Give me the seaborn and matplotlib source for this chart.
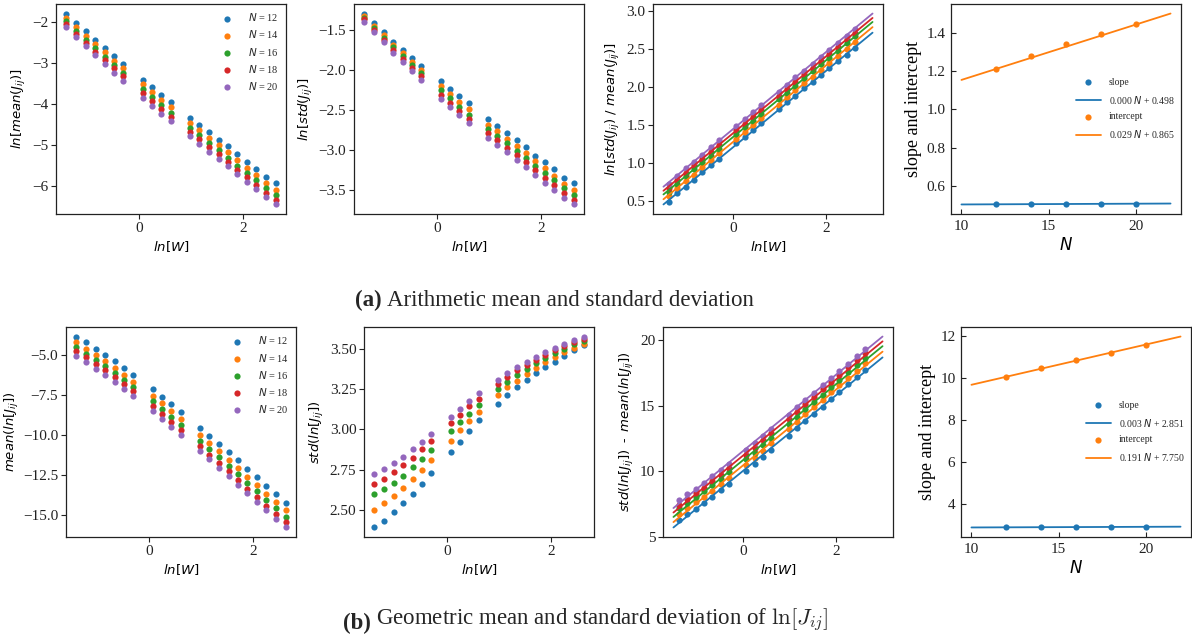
import numpy as np
import matplotlib
matplotlib.use("Agg")
import matplotlib.pyplot as plt
import seaborn as sns
from matplotlib.ticker import MultipleLocator

# ---------------------------------------------------------------- data
system_sizes = [12, 14, 16, 18, 20]
colors = ["#1f77b4", "#ff7f0e", "#2ca02c", "#d62728", "#9467bd"]

ln_w = [-1.39, -1.20, -1.02, -0.84, -0.66, -0.48, -0.30, 0.07, 0.25, 0.43, 0.61,
        0.98, 1.16, 1.34, 1.53, 1.71, 1.89, 2.07, 2.25, 2.44, 2.62]

# ln of the arithmetic mean of J_ij, one list per N
ln_mean_j = [
    [-1.79, -2.02, -2.22, -2.43, -2.63, -2.83, -3.01, -3.40, -3.58, -3.77, -3.95,
     -4.33, -4.50, -4.68, -4.87, -5.03, -5.23, -5.41, -5.58, -5.78, -5.93],
    [-1.90, -2.12, -2.33, -2.54, -2.74, -2.94, -3.13, -3.52, -3.71, -3.90, -4.08,
     -4.46, -4.64, -4.82, -5.00, -5.18, -5.37, -5.55, -5.73, -5.93, -6.10],
    [-1.97, -2.21, -2.43, -2.64, -2.84, -3.04, -3.23, -3.63, -3.82, -4.02, -4.21,
     -4.58, -4.76, -4.94, -5.13, -5.31, -5.50, -5.68, -5.86, -6.06, -6.23],
    [-2.04, -2.28, -2.50, -2.72, -2.93, -3.13, -3.32, -3.74, -3.93, -4.12, -4.31,
     -4.68, -4.86, -5.04, -5.23, -5.41, -5.60, -5.79, -5.97, -6.17, -6.33],
    [-2.12, -2.36, -2.59, -2.81, -3.02, -3.23, -3.43, -3.85, -4.04, -4.23, -4.42,
     -4.79, -4.97, -5.16, -5.34, -5.52, -5.71, -5.90, -6.08, -6.28, -6.45],
]

# ln of the standard deviation of J_ij
ln_std_j = [
    [-1.30, -1.42, -1.53, -1.65, -1.75, -1.85, -1.95, -2.14, -2.24, -2.33, -2.42,
     -2.62, -2.70, -2.79, -2.88, -2.96, -3.07, -3.15, -3.24, -3.35, -3.41],
    [-1.33, -1.45, -1.57, -1.69, -1.79, -1.90, -2.00, -2.20, -2.30, -2.40, -2.49,
     -2.69, -2.77, -2.86, -2.95, -3.04, -3.14, -3.23, -3.32, -3.42, -3.50],
    [-1.35, -1.48, -1.60, -1.72, -1.83, -1.94, -2.04, -2.25, -2.35, -2.46, -2.56,
     -2.74, -2.83, -2.92, -3.01, -3.10, -3.20, -3.29, -3.38, -3.48, -3.56],
    [-1.37, -1.50, -1.63, -1.75, -1.87, -1.98, -2.08, -2.31, -2.41, -2.51, -2.61,
     -2.79, -2.88, -2.97, -3.06, -3.15, -3.25, -3.35, -3.44, -3.54, -3.62],
    [-1.40, -1.53, -1.66, -1.79, -1.91, -2.02, -2.13, -2.36, -2.46, -2.56, -2.66,
     -2.85, -2.94, -3.03, -3.12, -3.21, -3.31, -3.41, -3.50, -3.60, -3.68],
]

# mean of ln J_ij
mean_ln_j = [
    [-3.88, -4.25, -4.65, -5.02, -5.43, -5.85, -6.28, -7.15, -7.61, -8.08, -8.56,
     -9.55, -10.05, -10.57, -11.07, -11.58, -12.12, -12.62, -13.16, -13.70, -14.23],
    [-4.25, -4.63, -5.03, -5.41, -5.82, -6.25, -6.68, -7.56, -8.03, -8.51, -9.00,
     -9.99, -10.50, -11.02, -11.53, -12.05, -12.59, -13.10, -13.64, -14.17, -14.69],
    [-4.56, -4.94, -5.34, -5.73, -6.15, -6.58, -7.02, -7.89, -8.37, -8.86, -9.36,
     -10.36, -10.87, -11.40, -11.91, -12.43, -12.97, -13.49, -14.03, -14.57, -15.10],
    [-4.77, -5.15, -5.56, -5.95, -6.38, -6.82, -7.27, -8.22, -8.70, -9.19, -9.70,
     -10.70, -11.22, -11.75, -12.27, -12.80, -13.34, -13.86, -14.40, -14.93, -15.44],
    [-5.06, -5.48, -5.87, -6.28, -6.72, -7.15, -7.59, -8.50, -9.00, -9.49, -9.99,
     -11.00, -11.52, -12.04, -12.58, -13.10, -13.61, -14.15, -14.67, -15.21, -15.75],
]

# standard deviation of ln J_ij
std_ln_j = [
    [2.395, 2.436, 2.488, 2.543, 2.603, 2.665, 2.731, 2.862, 2.924, 2.990, 3.056,
     3.157, 3.213, 3.262, 3.308, 3.349, 3.388, 3.419, 3.455, 3.488, 3.519],
    [2.500, 2.543, 2.589, 2.636, 2.692, 2.748, 2.810, 2.932, 2.994, 3.054, 3.110,
     3.213, 3.260, 3.302, 3.345, 3.382, 3.417, 3.450, 3.477, 3.504, 3.531],
    [2.601, 2.630, 2.667, 2.715, 2.767, 2.820, 2.876, 2.992, 3.045, 3.097, 3.151,
     3.250, 3.295, 3.337, 3.376, 3.411, 3.444, 3.473, 3.500, 3.525, 3.548],
    [2.661, 2.694, 2.736, 2.779, 2.826, 2.878, 2.928, 3.039, 3.091, 3.143, 3.190,
     3.281, 3.324, 3.366, 3.401, 3.432, 3.461, 3.488, 3.514, 3.539, 3.560],
    [2.727, 2.756, 2.791, 2.833, 2.878, 2.924, 2.975, 3.079, 3.128, 3.178, 3.223,
     3.306, 3.349, 3.384, 3.419, 3.450, 3.479, 3.506, 3.531, 3.552, 3.574],
]

# linear fits versus ln W for every N (arithmetic and geometric statistics)
fit_slope_a = [0.503, 0.504, 0.505, 0.506, 0.507]
fit_icpt_a = [1.21, 1.28, 1.345, 1.395, 1.45]
fit_slope_g = [2.886, 2.893, 2.899, 2.905, 2.911]
fit_icpt_g = [10.02, 10.44, 10.84, 11.19, 11.54]

# linear trends of the fit parameters versus N: (coefficient of N, constant)
trend_slope_a = (0.0004, 0.498)
trend_icpt_a = (0.029, 0.865)
trend_slope_g = (0.003, 2.851)
trend_icpt_g = (0.191, 7.750)

w_fit_range = [-1.5, 3.0]
n_fit_range = [10, 22]

# ---------------------------------------------------------------- style
sns.set_theme(style="ticks")
plt.rcParams.update({
    "font.family": ["Liberation Serif", "DejaVu Serif"],
    "mathtext.fontset": "dejavusans",
    "axes.linewidth": 0.9,
    "axes.edgecolor": "#222222",
    "xtick.direction": "out",
    "ytick.direction": "out",
    "xtick.major.size": 3.5,
    "ytick.major.size": 3.5,
    "xtick.major.width": 0.8,
    "ytick.major.width": 0.8,
    "xtick.major.pad": 2.5,
    "ytick.major.pad": 2.0,
    "xtick.labelsize": 11,
    "ytick.labelsize": 11,
    "xtick.color": "#222222",
    "ytick.color": "#222222",
    "axes.labelsize": 9.5,
    "axes.labelpad": 3.0,
    "axes.labelcolor": "black",
})

fig = plt.figure(figsize=(11.92, 6.41), dpi=100)
W, H = 1192.0, 641.0


def make_axes(left_px, top_px, w_px=230, h_px=210):
    return fig.add_axes([left_px / W, 1 - (top_px + h_px) / H, w_px / W, h_px / H])


top_axes = [make_axes(x, 4) for x in (56, 354, 653, 951)]
bot_axes = [make_axes(x, 327) for x in (66, 364, 663, 961)]

DOT = 20


def dots(ax, series, with_labels=False):
    for n, ys, c in zip(system_sizes, series, colors):
        kw = {"label": f"$N$ = {n}"} if with_labels else {}
        sns.scatterplot(x=ln_w, y=ys, color=c, s=DOT, linewidth=0, ax=ax, **kw)


def fitted(ax, series, slopes, icpts):
    for ys, c in zip(series, colors):
        sns.scatterplot(x=ln_w, y=ys, color=c, s=DOT, linewidth=0, ax=ax)
    for c, a, b in zip(colors, slopes, icpts):
        xs = np.array(w_fit_range)
        sns.lineplot(x=xs, y=a * xs + b, color=c, linewidth=1.3, ax=ax)


def trend_panel(ax, slopes, icpts, trend_s, trend_i):
    xs = np.array(n_fit_range)
    sns.scatterplot(x=system_sizes, y=slopes, color=colors[0], s=DOT, linewidth=0,
                    ax=ax, label="slope")
    sns.lineplot(x=xs, y=trend_s[0] * xs + trend_s[1], color=colors[0], linewidth=1.3,
                 ax=ax, label=f"{trend_s[0]:.3f} $N$ + {trend_s[1]:.3f}")
    sns.scatterplot(x=system_sizes, y=icpts, color=colors[1], s=DOT, linewidth=0,
                    ax=ax, label="intercept")
    sns.lineplot(x=xs, y=trend_i[0] * xs + trend_i[1], color=colors[1], linewidth=1.3,
                 ax=ax, label=f"{trend_i[0]:.3f} $N$ + {trend_i[1]:.3f}")
    ax.legend(loc="center right", frameon=False, fontsize=7, handlelength=2.6,
              borderaxespad=0.3, labelspacing=0.7)
    ax.set_xlabel("$N$", fontsize=12)
    ax.set_ylabel("slope and intercept", fontsize=13)
    ax.xaxis.set_major_locator(MultipleLocator(5))
    ax.tick_params(direction="in", pad=4)


# arithmetic statistics ---------------------------------------------------
ax = top_axes[0]
dots(ax, ln_mean_j, with_labels=True)
ax.legend(loc="upper right", frameon=False, fontsize=7.5, handletextpad=1.0,
          labelspacing=0.5, borderaxespad=0.3)
ax.set_ylabel("$ln[mean(J_{ij})]$")
ax.yaxis.set_major_locator(MultipleLocator(1))

ax = top_axes[1]
dots(ax, ln_std_j)
ax.set_ylabel("$ln[std(J_{ij})]$")
ax.yaxis.set_major_locator(MultipleLocator(0.5))

ax = top_axes[2]
ratio_a = [list(np.array(s) - np.array(m)) for s, m in zip(ln_std_j, ln_mean_j)]
fitted(ax, ratio_a, fit_slope_a, fit_icpt_a)
ax.set_ylabel("$ln[std(J_{ij})\\ /\\ mean(J_{ij})]$")
ax.yaxis.set_major_locator(MultipleLocator(0.5))

trend_panel(top_axes[3], fit_slope_a, fit_icpt_a, trend_slope_a, trend_icpt_a)
top_axes[3].yaxis.set_major_locator(MultipleLocator(0.2))

# statistics of ln J ------------------------------------------------------
ax = bot_axes[0]
dots(ax, mean_ln_j, with_labels=True)
ax.legend(loc="upper right", frameon=False, fontsize=7.5, handletextpad=1.0,
          labelspacing=0.5, borderaxespad=0.3)
ax.set_ylabel("$mean(ln[J_{ij}])$", labelpad=1.5)
ax.yaxis.set_major_locator(MultipleLocator(2.5))

ax = bot_axes[1]
dots(ax, std_ln_j)
ax.set_ylabel("$std(ln[J_{ij}])$")
ax.yaxis.set_major_locator(MultipleLocator(0.25))

ax = bot_axes[2]
spread_g = [list(np.array(s) - np.array(m)) for s, m in zip(std_ln_j, mean_ln_j)]
fitted(ax, spread_g, fit_slope_g, fit_icpt_g)
ax.set_ylabel("$std(ln[J_{ij}])$  -  $mean(ln[J_{ij}])$")
ax.yaxis.set_major_locator(MultipleLocator(5))

trend_panel(bot_axes[3], fit_slope_g, fit_icpt_g, trend_slope_g, trend_icpt_g)
bot_axes[3].yaxis.set_major_locator(MultipleLocator(2))

for ax in top_axes[:3] + bot_axes[:3]:
    ax.set_xlabel("$ln[W]$")
    ax.xaxis.set_major_locator(MultipleLocator(2))

for ax in (top_axes[1], top_axes[2], bot_axes[1], bot_axes[2]):
    if ax.get_legend() is not None:
        ax.get_legend().remove()

for ax in top_axes + bot_axes:
    for sp in ax.spines.values():
        sp.set_visible(True)


# captions ------------------------------------------------------------------
def caption(x_px, baseline_px, tag, text, **kw):
    t = fig.text(x_px / W, 1 - baseline_px / H, tag, fontsize=16.5, weight="bold",
                 va="baseline", ha="left")
    return plt.annotate(text, xy=(1, 0), xycoords=t, xytext=(4, 0),
                        textcoords="offset points", fontsize=16.5, va="bottom",
                        ha="left", annotation_clip=False, **kw)


caption(355, 306, "(a)", "Arithmetic mean and standard deviation")
caption(343, 629, "(b)", "Geometric mean and standard deviation of $\\ln[J_{ij}]$",
        math_fontfamily="cm")

fig.savefig("out.png", dpi=100)
